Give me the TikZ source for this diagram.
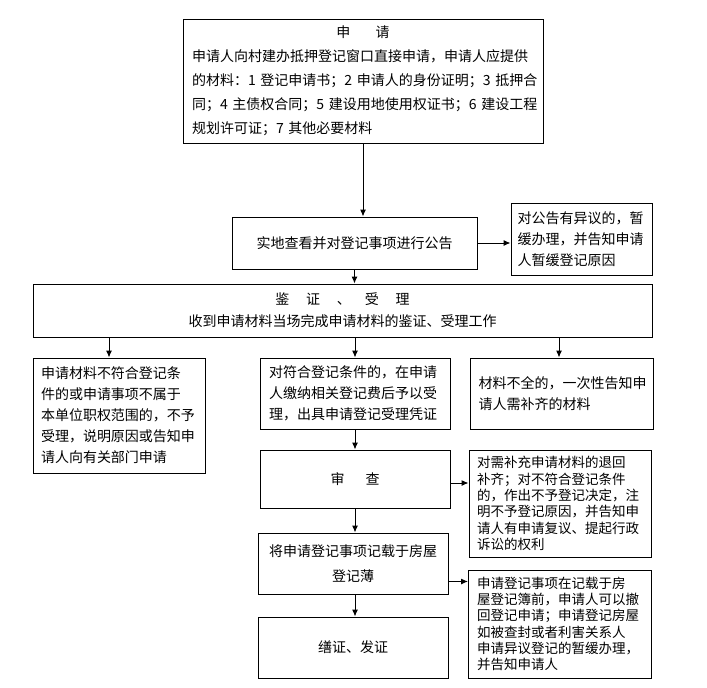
\documentclass[tikz,border=0pt]{standalone}
\usepackage{fontspec}
\setmainfont{Noto Sans CJK SC}
\usetikzlibrary{arrows.meta}

\begin{document}
\begin{tikzpicture}[x=1pt,y=-1pt,
    box/.style={draw, line width=1pt, inner sep=0pt, align=left,
      font=\fontsize{14}{21}\selectfont},
    smallbox/.style={box, font=\fontsize{13.5}{16.3}\selectfont},
    arr/.style={-{Latex[length=7pt,width=6pt]}, line width=1pt}]
    \useasboundingbox (0,0) rectangle (707,688);
    % main column
    \node[box, minimum width=360pt, minimum height=124pt, text width=342pt,
      font=\fontsize{14}{24}\selectfont] (apply) at (363,81)
      {{\centering 申\hspace{1.8em}请\par}
       \mbox{申请人向村建办抵押登记窗口直接申请，申请人应提供}\\
       \mbox{的材料：1~登记申请书；2~申请人的身份证明；3~抵押合}\\
       \mbox{同；4~主债权合同；5~建设用地使用权证书；6~建设工程}\\
       \mbox{规划许可证；7~其他必要材料}};
    \node[box, minimum width=245pt, minimum height=52pt] (survey) at (354.5,243)
      {实地查看并对登记事项进行公告};
    \node[box, minimum width=141pt, minimum height=72pt, text width=128pt] (objection) at (581.5,239)
      {对公告有异议的，暂\\缓办理，并告知申请\\人暂缓登记原因};
    \node[box, minimum width=619pt, minimum height=53pt, align=center,
      font=\fontsize{14}{22}\selectfont] (accept) at (342.5,310.5)
      {鉴\hspace{1.2em}证\hspace{1.2em}、\hspace{1.0em}受\hspace{1.2em}理\\
       收到申请材料当场完成申请材料的鉴证、受理工作};
    % three branches
    \node[box, minimum width=172pt, minimum height=115pt, text width=156pt] (reject) at (119,415.5)
      {申请材料不符合登记条\\件的或申请事项不属于\\本单位职权范围的，不予\\受理，说明原因或告知申\\请人向有关部门申请};
    \node[box, minimum width=190pt, minimum height=71pt, text width=172pt] (fee) at (355,393.5)
      {对符合登记条件的，在申请\\人缴纳相关登记费后予以受\\理，出具申请登记受理凭证};
    \node[box, minimum width=183pt, minimum height=71pt, text width=166pt] (incomplete) at (561.5,393.5)
      {材料不全的，一次性告知申\\请人需补齐的材料};
    \node[box, minimum width=190pt, minimum height=58pt] (review) at (355,479)
      {审\hspace{1.5em}查};
    \node[smallbox, minimum width=182pt, minimum height=107pt, text width=166pt] (returnbox) at (560,503.5)
      {对需补充申请材料的退回\\补齐；对不符合登记条件\\的，作出不予登记决定，注\\明不予登记原因，并告知申\\请人有申请复议、提起行政\\诉讼的权利};
    \node[box, minimum width=190pt, minimum height=61pt, align=center,
      font=\fontsize{14}{25}\selectfont] (record) at (353,563.5)
      {将申请登记事项记载于房屋\\登记薄};
    \node[smallbox, minimum width=183pt, minimum height=108pt, text width=166pt] (withdraw) at (560,624)
      {申请登记事项在记载于房\\屋登记簿前，申请人可以撤\\回登记申请；申请登记房屋\\如被查封或者利害关系人\\申请异议登记的暂缓办理，\\并告知申请人};
    \node[box, minimum width=190pt, minimum height=61pt] (issue) at (353,647.5)
      {缮证、发证};
    % columns under the accept box
    \coordinate (leftcol) at (109,0);
    \coordinate (midcol) at (355,0);
    \coordinate (rightcol) at (559,0);
    % connectors
    \draw[arr] (apply.south) -- (apply.south |- survey.north);
    \draw[arr] (survey.east) -- (survey.east -| objection.west);
    \draw[arr] (survey.south) -- (survey.south |- accept.north);
    \draw[arr] (accept.south -| leftcol) -- (reject.north -| leftcol);
    \draw[arr] (accept.south -| midcol) -- (fee.north -| midcol);
    \draw[arr] (accept.south -| rightcol) -- (incomplete.north -| rightcol);
    \draw[arr] (fee.south) -- (review.north);
    \draw[arr] ([yshift=-4pt]review.east) -- ([yshift=-4pt]review.east -| returnbox.west);
    \draw[arr] (review.south) -- (review.south |- record.north);
    \draw[arr] ([yshift=-18pt]record.east) -- ([yshift=-18pt]record.east -| withdraw.west);
    \draw[arr] (record.south -| midcol) -- (issue.north -| midcol);
\end{tikzpicture}
\end{document}
